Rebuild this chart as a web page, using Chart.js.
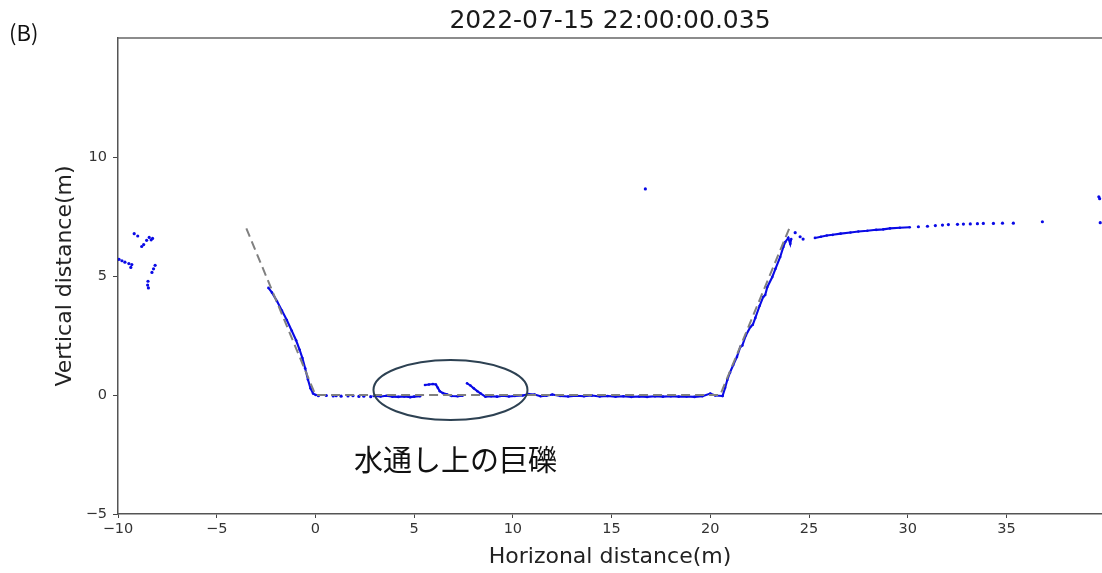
<!DOCTYPE html>
<html>
<head>
<meta charset="utf-8">
<script src="https://cdn.jsdelivr.net/npm/chart.js@4/dist/chart.umd.min.js"></script>
<style>
  html, body { margin: 0; padding: 0; background: #ffffff; overflow: hidden; }
  canvas { display: block; }
</style>
</head>
<body>
<canvas id="profile" width="1106" height="573"></canvas>
<script>
// ---- text ----
const chartTitle = '2022-07-15 22:00:00.035';
const panelLabel = '(B)';
const xAxisTitle = 'Horizonal distance(m)';
const yAxisTitle = 'Vertical distance(m)';
const calloutText = '水通し上の巨礫';

// ---- tick labels ----
const xTicks = [-10, -5, 0, 5, 10, 15, 20, 25, 30, 35];
const yTicks = [-5, 0, 5, 10];

// ---- design cross-section (dashed) ----
const designX = [-3.5, 0, 20.5, 24];
const designY = [7, 0, 0, 7];

// ---- scanned points, [x, y] in metres ----
const farLeftScan = [
  [-9.95, 5.70], [-9.80, 5.64], [-9.65, 5.58], [-9.45, 5.52], [-9.35, 5.36], [-9.30, 5.48],
  [-9.18, 6.78], [-9.00, 6.68],
  [-8.80, 6.24], [-8.70, 6.32], [-8.55, 6.50], [-8.42, 6.62], [-8.32, 6.52], [-8.25, 6.58],
  [-8.12, 5.45], [-8.20, 5.30], [-8.28, 5.15],
  [-8.48, 4.78], [-8.50, 4.62], [-8.46, 4.50]
];
const leftBank = [
  [-2.38, 4.50], [-2.20, 4.30], [-1.95, 3.95], [-1.70, 3.55], [-1.45, 3.15], [-1.20, 2.70],
  [-0.98, 2.30], [-0.80, 1.90], [-0.66, 1.55], [-0.52, 1.12], [-0.38, 0.65], [-0.25, 0.28],
  [-0.12, 0.06], [0.02, 0.00]
];
const floorSparse = [
  [0.15, -0.03], [0.55, -0.02], [0.90, -0.04], [1.05, -0.03], [1.30, -0.05], [1.65, -0.04],
  [1.90, -0.03], [2.20, -0.06], [2.45, -0.05], [2.80, -0.07]
];
const floorWest = [
  [2.95, -0.04], [3.30, -0.06], [3.60, -0.03], [3.90, -0.07], [4.20, -0.08], [4.50, -0.06],
  [4.80, -0.09], [5.00, -0.07], [5.30, -0.05]
];
const boulderA = [
  [5.55, 0.42], [5.75, 0.44], [5.95, 0.46], [6.10, 0.44], [6.20, 0.30], [6.30, 0.16],
  [6.45, 0.08], [6.65, 0.03], [6.90, -0.04], [7.20, -0.05], [7.45, -0.03]
];
const boulderBAndFloor = [
  [7.68, 0.49], [7.85, 0.40], [8.02, 0.28], [8.20, 0.16], [8.36, 0.07], [8.61, -0.07],
  [8.90, -0.05], [9.20, -0.07], [9.50, -0.03], [9.80, -0.06], [10.10, -0.04], [10.50, -0.02],
  [10.80, 0.04], [11.10, 0.02], [11.40, -0.05], [11.70, -0.03], [12.00, 0.02], [12.40, -0.04],
  [12.80, -0.06], [13.20, -0.03], [13.60, -0.05], [14.00, -0.02], [14.40, -0.06], [14.80, -0.04],
  [15.20, -0.07], [15.60, -0.05], [16.00, -0.08], [16.40, -0.06], [16.80, -0.08], [17.20, -0.05],
  [17.60, -0.07], [18.00, -0.05], [18.40, -0.07], [18.80, -0.06], [19.20, -0.08], [19.60, -0.05],
  [20.00, 0.06], [20.25, -0.02], [20.62, -0.04]
];
const rightBank = [
  [20.62, -0.04], [20.75, 0.30], [20.86, 0.63], [21.00, 0.95], [21.16, 1.26], [21.35, 1.60],
  [21.52, 2.02], [21.62, 2.08], [21.80, 2.50], [22.03, 2.86], [22.15, 2.95], [22.28, 3.24],
  [22.50, 3.75], [22.68, 4.12], [22.78, 4.20], [22.89, 4.54], [23.14, 4.96], [23.30, 5.30],
  [23.54, 5.80], [23.70, 6.22], [23.80, 6.43], [23.95, 6.60], [24.05, 6.35], [24.10, 6.55]
];
const rimScan = [
  [24.30, 6.82], [24.55, 6.65], [24.70, 6.55]
];
const upperPlain = [
  [25.30, 6.60], [25.60, 6.65], [25.90, 6.70], [26.20, 6.73], [26.60, 6.78], [27.10, 6.83],
  [27.50, 6.87], [27.95, 6.90], [28.40, 6.94], [28.76, 6.96], [29.10, 7.00], [29.60, 7.03],
  [30.10, 7.05]
];
const upperSparse = [
  [30.54, 7.07], [31.00, 7.09], [31.40, 7.12], [31.76, 7.14], [32.06, 7.16], [32.52, 7.17],
  [32.82, 7.18], [33.17, 7.19], [33.53, 7.20], [33.83, 7.21], [34.34, 7.21], [34.80, 7.22],
  [35.35, 7.22], [36.82, 7.28], [39.75, 7.24], [39.68, 8.33], [39.72, 8.25]
];
const strayPoints = [
  [16.71, 8.66]
];

// ---- callout geometry (data units) ----
const calloutEllipse = { cx: 6.84, cy: 0.21, rx: 3.9, ry: 1.26 };
const calloutLabelAt = { x: 7.09, y: -2.73 };

const toPts = arr => arr.map(([x, y]) => ({ x, y }));
const minusSign = v => String(v).replace('-', '\u2212');
const BLUE = '#0a0ae6';

function denseSeg(arr) {
  return {
    data: toPts(arr), showLine: true, borderColor: BLUE, borderWidth: 2.1,
    pointRadius: 1.3, pointBackgroundColor: BLUE, pointBorderWidth: 0, tension: 0
  };
}
function dotSeg(arr) {
  return {
    data: toPts(arr), showLine: false, pointRadius: 1.6,
    pointBackgroundColor: BLUE, pointBorderWidth: 0
  };
}

const designLine = {
  data: designX.map((x, i) => ({ x, y: designY[i] })),
  showLine: true, borderColor: '#808080', borderWidth: 2, borderDash: [9, 5],
  pointRadius: 0, tension: 0
};

const overlay = {
  id: 'overlay',
  afterDraw(chart) {
    const { ctx, chartArea, scales: { x, y } } = chart;
    ctx.save();
    // top frame line
    ctx.strokeStyle = '#666';
    ctx.lineWidth = 1.5;
    ctx.beginPath();
    ctx.moveTo(chartArea.left, chartArea.top);
    ctx.lineTo(chartArea.right, chartArea.top);
    ctx.stroke();

    // callout ellipse
    const cx = x.getPixelForValue(calloutEllipse.cx);
    const cy = y.getPixelForValue(calloutEllipse.cy);
    const rx = x.getPixelForValue(calloutEllipse.cx + calloutEllipse.rx) - cx;
    const ry = cy - y.getPixelForValue(calloutEllipse.cy + calloutEllipse.ry);
    ctx.strokeStyle = '#2d4152';
    ctx.lineWidth = 2;
    ctx.beginPath();
    ctx.ellipse(cx, cy, rx, ry, 0, 0, Math.PI * 2);
    ctx.stroke();

    // callout text
    ctx.fillStyle = '#111';
    ctx.font = '29px "Noto Sans CJK JP"';
    ctx.textAlign = 'center';
    ctx.textBaseline = 'middle';
    ctx.fillText(calloutText, x.getPixelForValue(calloutLabelAt.x), y.getPixelForValue(calloutLabelAt.y));

    // panel label
    ctx.font = '22px "Noto Sans CJK JP"';
    ctx.textAlign = 'left';
    ctx.fillText(panelLabel, 9, 33);
    ctx.restore();
  }
};

new Chart(document.getElementById('profile'), {
  type: 'scatter',
  data: {
    datasets: [
      designLine,
      dotSeg(farLeftScan),
      denseSeg(leftBank),
      dotSeg(floorSparse),
      denseSeg(floorWest),
      denseSeg(boulderA),
      denseSeg(boulderBAndFloor),
      denseSeg(rightBank),
      dotSeg(rimScan),
      denseSeg(upperPlain),
      dotSeg(upperSparse),
      dotSeg(strayPoints)
    ]
  },
  options: {
    responsive: false,
    animation: false,
    layout: { padding: 0 },
    plugins: {
      legend: { display: false },
      tooltip: { enabled: false },
      title: {
        display: true, text: chartTitle, fullSize: false,
        font: { family: 'DejaVu Sans', size: 25, weight: 'normal' },
        color: '#1a1a1a', padding: { top: 6, bottom: 2 }
      }
    },
    scales: {
      x: {
        type: 'linear', min: -10, max: 39.84,
        afterFit(s) { s.height = 59; },
        afterBuildTicks(s) { s.ticks = xTicks.map(v => ({ value: v })); },
        grid: { display: true, drawOnChartArea: false, drawTicks: true, tickLength: 4, color: '#444', lineWidth: 1 },
        border: { display: true, color: '#555', width: 1.5 },
        ticks: {
          font: { family: 'DejaVu Sans', size: 14.5 }, color: '#333', padding: 3,
          maxRotation: 0, autoSkip: false, callback: v => minusSign(v)
        },
        title: {
          display: true, text: xAxisTitle, color: '#222',
          font: { family: 'DejaVu Sans', size: 22 }, padding: { top: 0, bottom: 3 }
        }
      },
      y: {
        type: 'linear', min: -5, max: 15,
        afterFit(s) { s.width = 118; },
        afterBuildTicks(s) { s.ticks = yTicks.map(v => ({ value: v })); },
        grid: { display: true, drawOnChartArea: false, drawTicks: true, tickLength: 5, color: '#444', lineWidth: 1 },
        border: { display: true, color: '#555', width: 1.5 },
        ticks: {
          font: { family: 'DejaVu Sans', size: 14.5 }, color: '#333', padding: 6,
          autoSkip: false, callback: v => minusSign(v)
        },
        title: {
          display: true, text: yAxisTitle, color: '#222',
          font: { family: 'DejaVu Sans', size: 22 }, padding: { top: 52, bottom: 0 }
        }
      }
    }
  },
  plugins: [overlay]
});
</script>
</body>
</html>
